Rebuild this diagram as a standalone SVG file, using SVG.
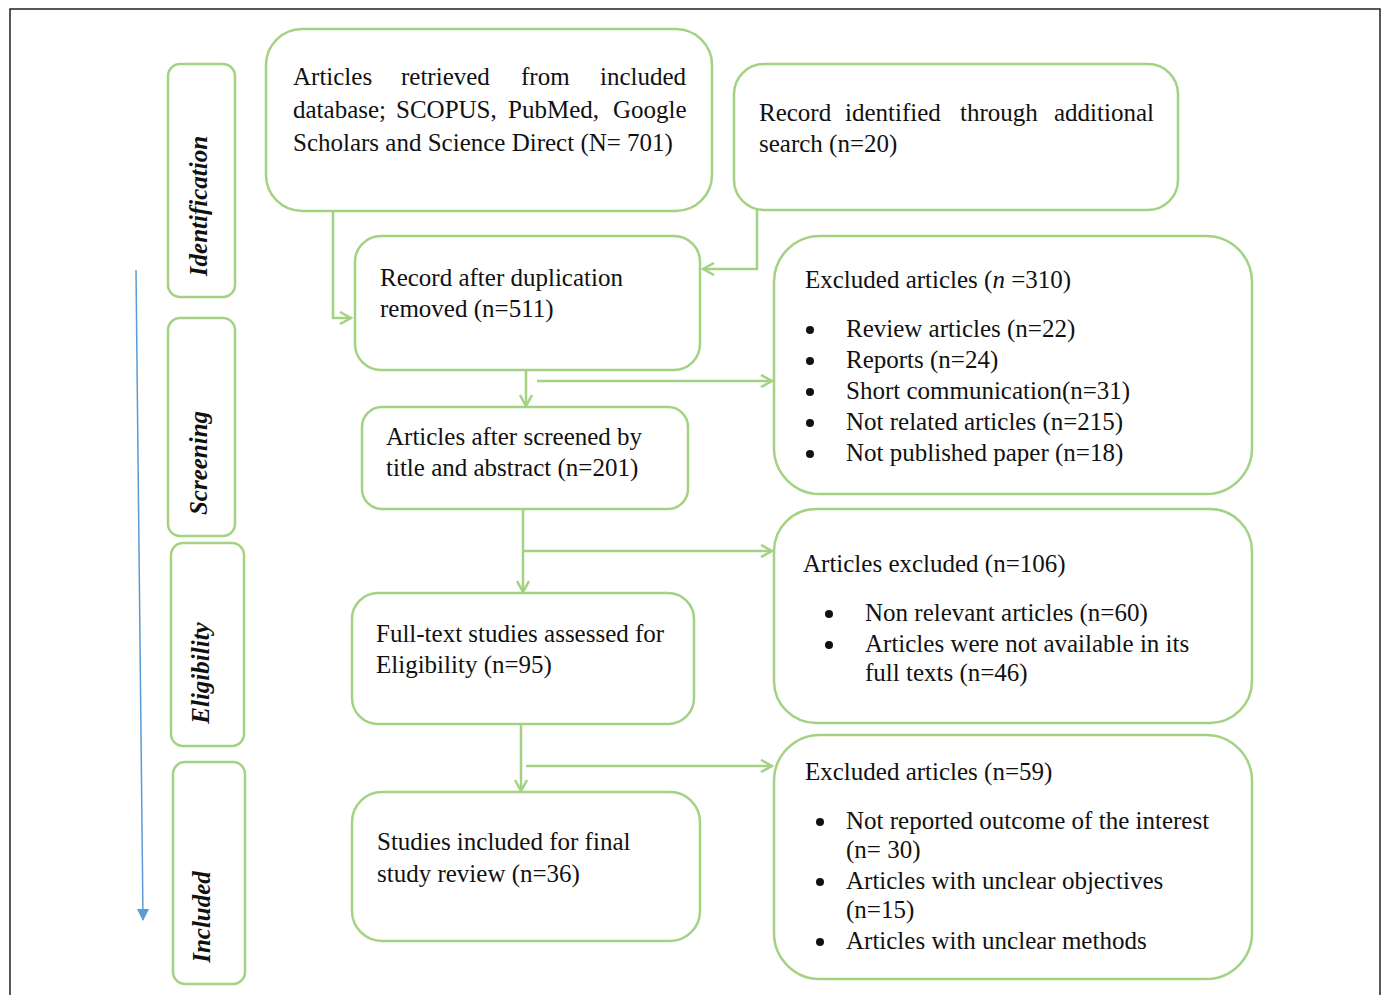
<svg xmlns="http://www.w3.org/2000/svg" width="1381" height="995" viewBox="0 0 1381 995">
<defs>
<style>
.box{fill:#fff;stroke:#a3d283;stroke-width:2.5}
.con{fill:none;stroke:#a3d283;stroke-width:2.5}
.t{font-family:"Liberation Serif","Times New Roman",serif;font-size:25px;fill:#111}
.side{font-family:"Liberation Serif","Times New Roman",serif;font-size:25px;font-weight:bold;font-style:italic;fill:#111}
</style>
<marker id="ah" markerWidth="14" markerHeight="14" refX="12" refY="7" orient="auto" markerUnits="userSpaceOnUse">
<path d="M1,1 L12,7 L1,13" fill="none" stroke="#a3d283" stroke-width="2.5"/>
</marker>
<marker id="bh" markerWidth="14" markerHeight="14" refX="7" refY="12" orient="0" markerUnits="userSpaceOnUse">
<path d="M1,1 L13,1 L7,13 Z" fill="#5b9bd5"/>
</marker>
</defs>
<rect x="0" y="0" width="1381" height="995" fill="#fff"/>
<rect x="10" y="9" width="1370" height="1000" fill="none" stroke="#222" stroke-width="1.5"/>

<g id="timeline">
<line x1="136" y1="270" x2="143" y2="920" stroke="#5b9bd5" stroke-width="1.5" marker-end="url(#bh)"/>
</g>

<g id="side-identification">
<rect class="box" x="168" y="64" width="67" height="233" rx="12"/>
<text class="side" transform="translate(207,206) rotate(-90)" text-anchor="middle">Identification</text>
</g>
<g id="side-screening">
<rect class="box" x="168" y="318" width="67" height="218" rx="12"/>
<text class="side" transform="translate(207,463) rotate(-90)" text-anchor="middle">Screening</text>
</g>
<g id="side-eligibility">
<rect class="box" x="171" y="543" width="73" height="203" rx="12"/>
<text class="side" transform="translate(209,673) rotate(-90)" text-anchor="middle">Eligibility</text>
</g>
<g id="side-included">
<rect class="box" x="173" y="762" width="72" height="222" rx="12"/>
<text class="side" transform="translate(210,917) rotate(-90)" text-anchor="middle">Included</text>
</g>

<g id="connectors">
<path class="con" d="M333,211 V318 H351" marker-end="url(#ah)"/>
<path class="con" d="M757,210 V269 H703" marker-end="url(#ah)"/>
<path class="con" d="M526,370 V406" marker-end="url(#ah)"/>
<path class="con" d="M537,381 H772" marker-end="url(#ah)"/>
<path class="con" d="M523,509 V592" marker-end="url(#ah)"/>
<path class="con" d="M524,551 H772" marker-end="url(#ah)"/>
<path class="con" d="M521,724 V791" marker-end="url(#ah)"/>
<path class="con" d="M526,766 H772" marker-end="url(#ah)"/>
</g>

<g id="n-database">
<rect class="box" x="266" y="29" width="446" height="182" rx="36"/>
<text class="t"><tspan x="293" y="85">Articles</tspan><tspan x="401" y="85">retrieved</tspan><tspan x="521" y="85">from</tspan><tspan x="600" y="85">included</tspan></text>
<text class="t"><tspan x="293" y="118">database;</tspan><tspan x="396" y="118">SCOPUS,</tspan><tspan x="508" y="118">PubMed,</tspan><tspan x="613" y="118">Google</tspan></text>
<text class="t" x="293" y="151">Scholars and Science Direct (N= 701)</text>
</g>

<g id="n-additional">
<rect class="box" x="734" y="64" width="444" height="146" rx="30"/>
<text class="t"><tspan x="759" y="121">Record</tspan><tspan x="845" y="121">identified</tspan><tspan x="960" y="121">through</tspan><tspan x="1054" y="121">additional</tspan></text>
<text class="t" x="759" y="152">search (n=20)</text>
</g>

<g id="n-dedup">
<rect class="box" x="355" y="236" width="345" height="134" rx="26"/>
<text class="t" x="380" y="286">Record after duplication</text>
<text class="t" x="380" y="317">removed (n=511)</text>
</g>

<g id="n-excluded310">
<rect class="box" x="774" y="236" width="478" height="258" rx="46"/>
<text class="t" x="805" y="288">Excluded articles (<tspan font-style="italic">n</tspan> =310)</text>
<circle cx="810" cy="330" r="4" fill="#111"/><text class="t" x="846" y="337">Review articles (n=22)</text>
<circle cx="810" cy="361" r="4" fill="#111"/><text class="t" x="846" y="368">Reports (n=24)</text>
<circle cx="810" cy="392" r="4" fill="#111"/><text class="t" x="846" y="399">Short communication(n=31)</text>
<circle cx="810" cy="423" r="4" fill="#111"/><text class="t" x="846" y="430">Not related articles (n=215)</text>
<circle cx="810" cy="454" r="4" fill="#111"/><text class="t" x="846" y="461">Not published paper (n=18)</text>
</g>

<g id="n-screened">
<rect class="box" x="362" y="407" width="326" height="102" rx="20"/>
<text class="t" x="386" y="445">Articles after screened by</text>
<text class="t" x="386" y="476">title and abstract (n=201)</text>
</g>

<g id="n-excluded106">
<rect class="box" x="774" y="509" width="478" height="214" rx="42"/>
<text class="t" x="803" y="572">Articles excluded (n=106)</text>
<circle cx="829" cy="614" r="4" fill="#111"/><text class="t" x="865" y="621">Non relevant articles (n=60)</text>
<circle cx="829" cy="645" r="4" fill="#111"/><text class="t" x="865" y="652">Articles were not available in its</text>
<text class="t" x="865" y="681">full texts (n=46)</text>
</g>

<g id="n-fulltext">
<rect class="box" x="352" y="593" width="342" height="131" rx="26"/>
<text class="t" x="376" y="642">Full-text studies assessed for</text>
<text class="t" x="376" y="673">Eligibility (n=95)</text>
</g>

<g id="n-excluded59">
<rect class="box" x="774" y="735" width="478" height="244" rx="46"/>
<text class="t" x="805" y="780">Excluded articles (n=59)</text>
<circle cx="820" cy="822" r="4" fill="#111"/><text class="t" x="846" y="829">Not reported outcome of the interest</text>
<text class="t" x="846" y="858">(n= 30)</text>
<circle cx="820" cy="882" r="4" fill="#111"/><text class="t" x="846" y="889">Articles with unclear objectives</text>
<text class="t" x="846" y="918">(n=15)</text>
<circle cx="820" cy="942" r="4" fill="#111"/><text class="t" x="846" y="949">Articles with unclear methods</text>
</g>

<g id="n-included">
<rect class="box" x="352" y="792" width="348" height="149" rx="30"/>
<text class="t" x="377" y="850">Studies included for final</text>
<text class="t" x="377" y="882">study review (n=36)</text>
</g>
</svg>
